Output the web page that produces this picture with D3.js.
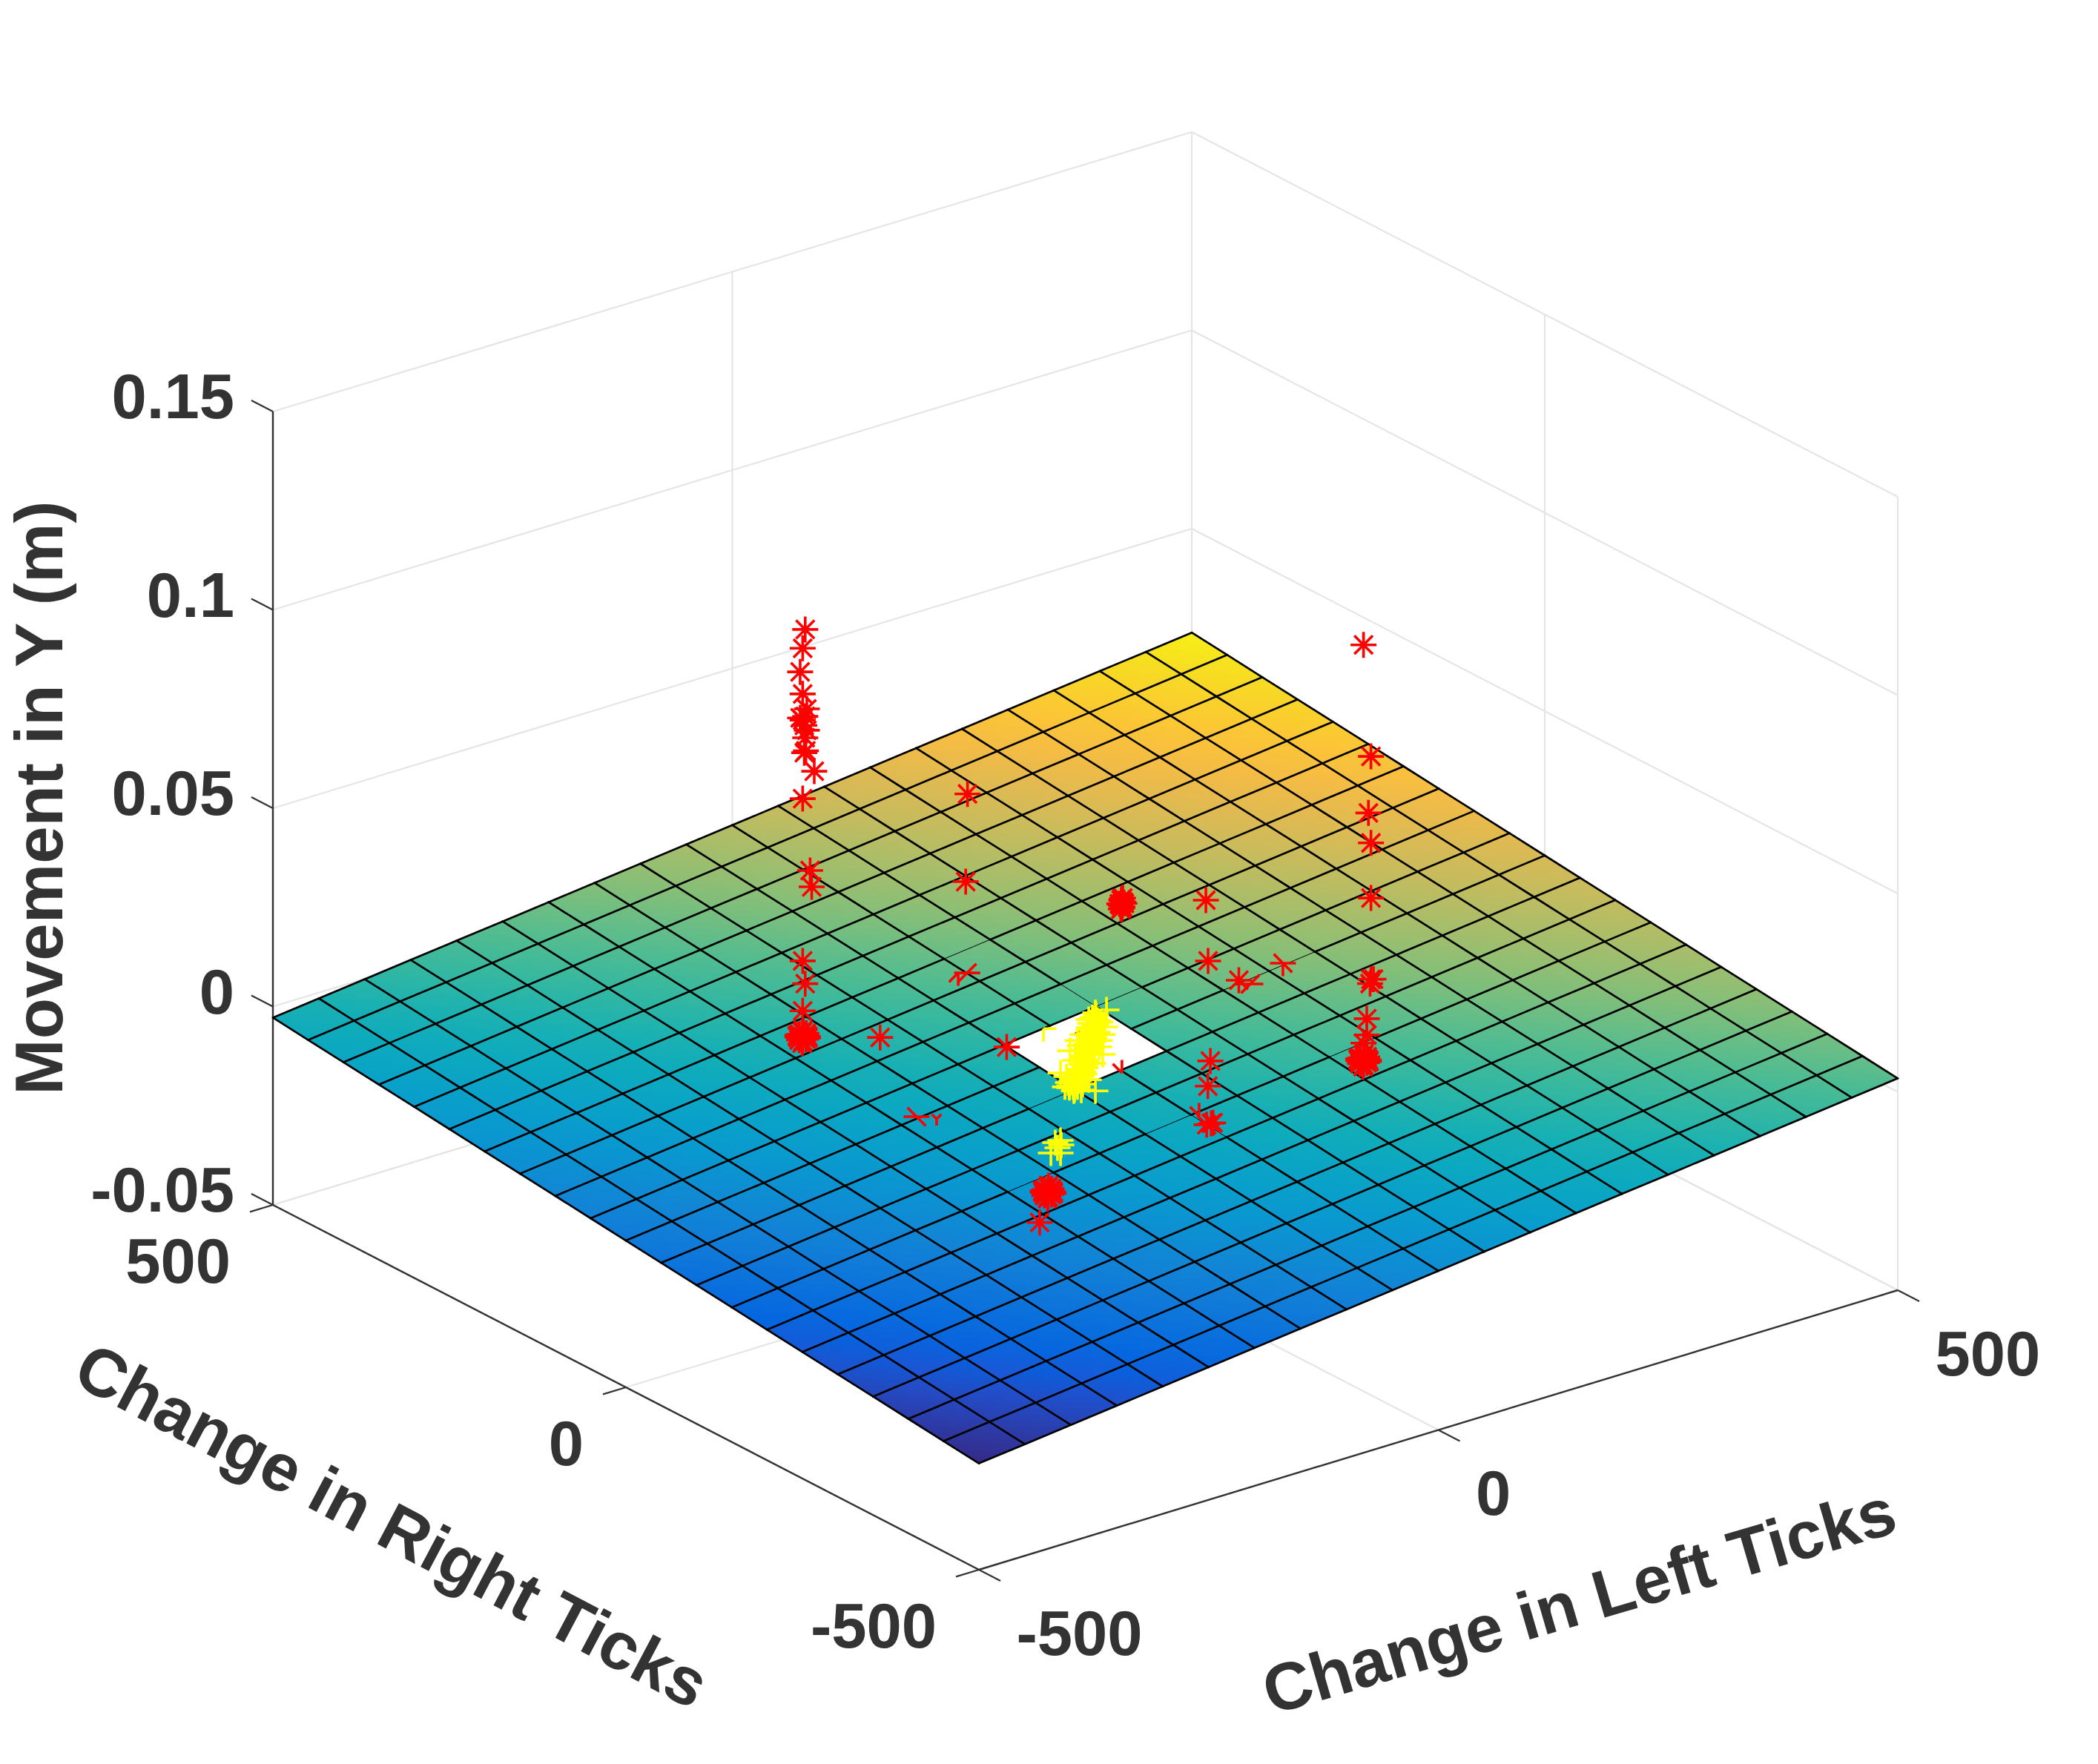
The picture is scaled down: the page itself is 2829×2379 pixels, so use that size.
<!DOCTYPE html>
<html>
<head>
<meta charset="utf-8">
<style>
 body{ margin:0; background:#fff; }
 svg{ display:block; background:#fff; }
 text{ font-family:"Liberation Sans",Arial,sans-serif; font-weight:bold; fill:#333; }
</style>
</head>
<body>
<svg width="2829" height="2379"></svg>
<script src="https://cdn.jsdelivr.net/npm/d3@7"></script>
<script>
// axis ticks
var leftTicks = [-500, 0, 500];
var rightTicks = [-500, 0, 500];
var moveTicks = [-0.05, 0, 0.05, 0.1, 0.15];
var moveTickLabels = ["-0.05", "0", "0.05", "0.1", "0.15"];

// fitted surface: grid lines and height in 1e-5 m, rows go along right ticks
var gridLeft = [-500,-450,-400,-350,-300,-250,-200,-150,-100,-50,0,50,100,150,200,250,300,350,400,450,500];
var gridRight = [-500,-450,-400,-350,-300,-250,-200,-150,-100,-50,0,50,100,150,200,250,300,350,400,450,500];
var surfaceZ = [
 [-2320,-2187,-2054,-1921,-1788,-1655,-1522,-1389,-1256,-1123,-990,-857,-724,-591,-458,-325,-192,-59,74,207,340],
 [-2218,-2085,-1952,-1819,-1686,-1553,-1420,-1287,-1154,-1021,-888,-755,-622,-489,-356,-223,-90,43,176,309,442],
 [-2116,-1983,-1850,-1717,-1584,-1451,-1318,-1185,-1052,-919,-786,-653,-520,-387,-254,-121,12,145,278,411,544],
 [-2014,-1881,-1748,-1615,-1482,-1349,-1216,-1083,-950,-817,-684,-551,-418,-285,-152,-19,114,247,380,513,646],
 [-1912,-1779,-1646,-1513,-1380,-1247,-1114,-981,-848,-715,-582,-449,-316,-183,-50,83,216,349,482,615,748],
 [-1810,-1677,-1544,-1411,-1278,-1145,-1012,-879,-746,-613,-480,-347,-214,-81,52,185,318,451,584,717,850],
 [-1708,-1575,-1442,-1309,-1176,-1043,-910,-777,-644,-511,-378,-245,-112,21,154,287,420,553,686,819,952],
 [-1606,-1473,-1340,-1207,-1074,-941,-808,-675,-542,-409,-276,-143,-10,123,256,389,522,655,788,921,1054],
 [-1504,-1371,-1238,-1105,-972,-839,-706,-573,-440,-307,-174,-41,92,225,358,491,624,757,890,1023,1156],
 [-1402,-1269,-1136,-1003,-870,-737,-604,-471,-338,-205,-72,61,194,327,460,593,726,859,992,1125,1258],
 [-1300,-1167,-1034,-901,-768,-635,-502,-369,-236,-103,null,163,296,429,562,695,828,961,1094,1227,1360],
 [-1198,-1065,-932,-799,-666,-533,-400,-267,-134,-1,132,265,398,531,664,797,930,1063,1196,1329,1462],
 [-1096,-963,-830,-697,-564,-431,-298,-165,-32,101,234,367,500,633,766,899,1032,1165,1298,1431,1564],
 [-994,-861,-728,-595,-462,-329,-196,-63,70,203,336,469,602,735,868,1001,1134,1267,1400,1533,1666],
 [-892,-759,-626,-493,-360,-227,-94,39,172,305,438,571,704,837,970,1103,1236,1369,1502,1635,1768],
 [-790,-657,-524,-391,-258,-125,8,141,274,407,540,673,806,939,1072,1205,1338,1471,1604,1737,1870],
 [-688,-555,-422,-289,-156,-23,110,243,376,509,642,775,908,1041,1174,1307,1440,1573,1706,1839,1972],
 [-586,-453,-320,-187,-54,79,212,345,478,611,744,877,1010,1143,1276,1409,1542,1675,1808,1941,2074],
 [-484,-351,-218,-85,48,181,314,447,580,713,846,979,1112,1245,1378,1511,1644,1777,1910,2043,2176],
 [-382,-249,-116,17,150,283,416,549,682,815,948,1081,1214,1347,1480,1613,1746,1879,2012,2145,2278],
 [-280,-147,-14,119,252,385,518,651,784,917,1050,1183,1316,1449,1582,1715,1848,1981,2114,2247,2380]
];
// grid segments that come out hairline in the picture: [column, row]
var thinAlongLeft = [[10,14],[11,11],[8,9],[9,7],[6,7],[13,10],[14,10],[13,7]];
var thinAlongRight = [[11,11],[10,6]];

// measured points [left ticks, right ticks, movement]
var redColumnA = [
 [-175,169,.1026],[-177,170,.0979],[-179,171,.0920],[-177,170,.0864],[-174,168,.0826],[-177,170,.0798],
 [-175,169,.0807],[-174,168,.0772],[-175,168,.0721],[-169,164,.0669],[-177,170,.0600],[-172,166,.0419],
 [-171,165,.0378],[-177,170,.0191],[-175,169,.0133],[-177,170,.0065],[-179,171,.0804],[-176,169,.0785],
 [-175,169,.0753],[-176,169,.0716]
];
var redColumnB = [
 [176,-165,.1047],[181,-169,.0766],[179,-168,.0624],[181,-169,.0548],[181,-169,.0409],[181,-169,.0204],
 [183,-170,.0204],[180,-169,.0194],[178,-167,.0105],[178,-167,.0064],[176,-165,.0043]
];
var redClusterA = [
 [-177,170,0],[-173,168,0],[-181,172,0],[-171,178,0],[-183,162,0],[-168,181,0],[-186,159,0],[-170,174,0],[-184,166,0],
 [-176,176,0],[-178,164,0],[-174,167,0],[-180,173,0],[-179,175,0],[-175,165,0],[-172,172,0],[-182,168,0]
];
var redClusterB = [
 [176,-165,0],[180,-167,0],[172,-163,0],[182,-157,0],[170,-173,0],[185,-154,0],[167,-176,0],[183,-161,0],[169,-169,0],
 [177,-159,0],[175,-171,0],[179,-168,0],[173,-162,0],[174,-160,0],[178,-170,0],[181,-163,0],[171,-167,0]
];
var redClusterC = [
 [155,150,.012],[157,149,.012],[153,151,.012],[161,158,.012],[149,142,.012],[163,159,.012],
 [147,141,.012],[159,156,.012],[151,144,.012],[158,152,.012],[152,148,.012]
];
var redClusterD = [
 [-215,-227,0],[-211,-229,0],[-219,-225,0],[-209,-219,0],[-221,-235,0],[-206,-216,0],[-224,-238,0],[-208,-223,0],[-222,-231,0],
 [-214,-221,0],[-216,-233,0],[-212,-228,0],[-218,-226,0],[-217,-222,0],[-213,-232,0],[-210,-224,0],[-220,-230,0]
];
var redSingles = [
 [100,297,.03],[35,215,.02],[-125,128,0],[-51,45,0],[-261,-275,0],[175,57,.02],[148.5,19.4,.01],[144,-30,.01],
 [70,-86,0],[35,-128,0],[-12,-194,0],[-17,-194,0],[-10,-194,0]
];
// points that dip into the surface: only some arms show. arms count clockwise from east, 45 deg each
var redPartial = [
 [20.2,193.7,0,[0,4,7,3]],[14.1,198.4,0,[2,3]],[199.5,26,0,[0,4,7,3]],[249.4,44.7,0,[0,4,5,1,2]],
 [-10.5,-174.8,0,[5,6]],[-6.4,-60.2,0,[5,6]],[-205.1,-27.9,0,[0,4,5,1]]
];
var redStubs = [[-194.3,-42.2,0,[5,7,2]],[21.8,36.2,0,[3]]];
var yellowPoints = [
 [6.9,-5.3,.0092],[4.8,-3.7,.0080],[8.4,-6.4,.0073],[3.3,-2.5,.0065],[6.4,-4.9,.0058],[10.4,-8,.0069],[2.3,-1.8,.0054],
 [4.8,-3.7,.0043],[8.4,-6.4,.0043],[1.3,-1,.0036],[3.3,-2.5,.0024],[6.4,-4.9,.0028],[.3,-.2,.0013],[3.3,-2.5,.0006],
 [-.8,.6,-.0002],[1.8,-1.4,-.0009],[-1.8,1.4,-.0017],[.8,-.6,-.0028],[-2.8,2.1,-.0036],[-.3,.2,-.0043],[-4.3,3.3,-.0050],
 [-1.3,1,-.0058],[-5.8,4.5,-.0065],[-2.8,2.1,-.0069],[-7.4,5.6,-.0073],[-4.3,3.3,-.0080],[-9.4,7.2,-.0080],[-6.4,4.9,-.0088],
 [-8.4,6.4,-.0095],[-5.3,4.1,-.0095],[-10.9,8.4,-.0097],[-11.9,9.1,-.0084],[-7.9,6,-.0105],[-1.8,1.4,-.0088],
 [7.4,-5.6,.0086],[5.3,-4.1,.0077],[7.4,-5.6,.0062],[3.8,-2.9,.0049],[6.9,-5.3,.0037],[2.8,-2.1,.0030],[5.3,-4.1,.0019],
 [1.3,-1,.0007],[4.3,-3.3,.0002],[.3,-.2,-.0006],[2.8,-2.1,-.0013],[-1.3,1,-.0022],[1.3,-1,-.0034],[-2.3,1.8,-.0039],
 [.3,-.2,-.0047],[-3.3,2.5,-.0054],[-.8,.6,-.0062],[-6.9,5.3,-.0077],[-8.9,6.8,-.0084],[-10.9,8.4,-.0092],[-7.4,5.6,-.0101],
 [2.3,-1.8,.0075],[13.5,-10.3,.0056],[-1.8,1.4,.0037],[11.9,-9.1,.0037],[-3.8,2.9,.0009],[9.4,-7.2,.0006],
 [-6.9,5.3,-.0028],[5.3,-4.1,-.0036],[-13,9.9,-.0069],[2.3,-1.8,-.0077],[-14,10.7,-.0095],[-2.8,2.1,-.0103],
 [14.5,-11.1,.0099],[6.9,-5.3,-.0105],[-17,13,-.0060],[-10.4,8,-.0004],[11.9,-9.1,-.0013],[9.9,-7.6,.0022],[-5.3,4.1,.0022],
 [-137.9,-144.3,0],[-144.5,-145.4,0],[-143.3,-152.4,0],[-149.8,-155.5,0],[-161.2,-161,0],[-154.6,-166.1,0]
];
var yellowPartial = [[-28.7,22,.0052,[0,2]]];

// parula, the old matlab one
var parulaStops = [0,.095,.127,.238,.333,.429,.524,.619,.714,.794,.841,.905,.952,1];
var parulaColors = ["#352a87","#2053d4","#0363e1","#1481d6","#079ccf","#0faeb9","#42bb98","#87bf77","#c0bc60","#e9b94e","#fdbe3d","#f9d329","#f5e41d","#f9fb0e"];

var svg = d3.select("svg");
var defs = svg.append("defs");

// box corners on the page
var front = [1320, 2117], left = [368, 1625], right = [2559, 1740], boxHeight = 1070;

var xS = d3.scaleLinear().domain([-500, 500]).range([0, 1]);
var yS = d3.scaleLinear().domain([-500, 500]).range([0, 1]);
var zS = d3.scaleLinear().domain([-0.05, 0.15]).range([0, boxHeight]);

function project(x, y, z){
    var a = xS(x), b = yS(y);
    return [front[0] + a*(right[0]-front[0]) + b*(left[0]-front[0]),
	    front[1] + a*(right[1]-front[1]) + b*(left[1]-front[1]) - zS(z)];
}

var zMin = -0.0232, zMax = 0.025;
var color = d3.scaleLinear()
	      .domain(parulaStops.map(function(t){ return zMin + t*(zMax-zMin); }))
	      .range(parulaColors);

function line3(g, a, b, stroke, width){
    var p = project(a[0], a[1], a[2]), q = project(b[0], b[1], b[2]);
    g.append("line")
	.attr("x1", p[0]).attr("y1", p[1])
	.attr("x2", q[0]).attr("y2", q[1])
	.attr("stroke", stroke)
	.attr("stroke-width", width);
}

// back walls and floor
var grid = svg.append("g");
var gridColor = "#e5e5e5";
moveTicks.forEach(function(z){
    line3(grid, [-500,500,z], [500,500,z], gridColor, 2.2);
    line3(grid, [500,500,z], [500,-500,z], gridColor, 2.2);
});
leftTicks.forEach(function(x){
    line3(grid, [x,500,-0.05], [x,500,0.15], gridColor, 2.2);
    line3(grid, [x,-500,-0.05], [x,500,-0.05], gridColor, 2.2);
});
rightTicks.forEach(function(y){
    line3(grid, [500,y,-0.05], [500,y,0.15], gridColor, 2.2);
    line3(grid, [-500,y,-0.05], [500,y,-0.05], gridColor, 2.2);
});

// axes and ticks
var axes = svg.append("g");
var axisColor = "#333";
line3(axes, [-500,500,-0.05], [-500,500,0.15], axisColor, 2.4);
line3(axes, [-500,-500,-0.05], [-500,500,-0.05], axisColor, 2.4);
line3(axes, [-500,-500,-0.05], [500,-500,-0.05], axisColor, 2.4);
moveTicks.forEach(function(z){ line3(axes, [-500,500,z], [-500,530.5,z], axisColor, 2.2); });
rightTicks.forEach(function(y){ line3(axes, [-500,y,-0.05], [-525,y,-0.05], axisColor, 2.2); });
leftTicks.forEach(function(x){ line3(axes, [x,-500,-0.05], [x,-530.5,-0.05], axisColor, 2.2); });

// surface cells, each with a gradient that runs the way the height rises
var cells = [];
surfaceZ.forEach(function(row, j){
    row.forEach(function(v, i){
	if(i == row.length-1 || j == surfaceZ.length-1) return;
	var zs = [v, row[i+1], surfaceZ[j+1][i], surfaceZ[j+1][i+1]];
	if(zs.some(function(d){ return d === null; })) return;
	cells.push({i:i, j:j, z:zs.map(function(d){ return d/1e5; })});
    });
});

function cellCorners(c){
    return [project(gridLeft[c.i], gridRight[c.j], c.z[0]),
	    project(gridLeft[c.i+1], gridRight[c.j], c.z[1]),
	    project(gridLeft[c.i+1], gridRight[c.j+1], c.z[3]),
	    project(gridLeft[c.i], gridRight[c.j+1], c.z[2])];
}

cells.forEach(function(c){
    var p = cellCorners(c);
    var e1 = [p[1][0]-p[0][0], p[1][1]-p[0][1]], e2 = [p[3][0]-p[0][0], p[3][1]-p[0][1]];
    var d1 = c.z[1]-c.z[0], d2 = c.z[2]-c.z[0], rise = c.z[3]-c.z[0];
    var det = e1[0]*e2[1] - e1[1]*e2[0];
    var gx = (d1*e2[1] - d2*e1[1])/det, gy = (e1[0]*d2 - e2[0]*d1)/det;
    var k = rise/(gx*gx + gy*gy);
    var lg = defs.append("linearGradient")
		 .attr("id", "cell" + c.i + "_" + c.j)
		 .attr("gradientUnits", "userSpaceOnUse")
		 .attr("x1", p[0][0]).attr("y1", p[0][1])
		 .attr("x2", p[0][0] + gx*k).attr("y2", p[0][1] + gy*k);
    lg.append("stop").attr("offset", 0).attr("stop-color", color(c.z[0]));
    lg.append("stop").attr("offset", 1).attr("stop-color", color(c.z[3]));
});

var surface = svg.append("g");
surface.selectAll("path")
    .data(cells)
    .enter().append("path")
    .attr("d", function(c){ return "M" + cellCorners(c).join("L") + "Z"; })
    .attr("fill", function(c){ return "url(#cell" + c.i + "_" + c.j + ")"; });

// mesh lines
var isThin = function(list, i, j){
    return list.some(function(d){ return d[0] == i && d[1] == j; });
};
var mesh = svg.append("g").attr("stroke-linecap", "round");
surfaceZ.forEach(function(row, j){
    row.forEach(function(v, i){
	if(v === null) return;
	if(i < row.length-1 && row[i+1] !== null)
	    line3(mesh, [gridLeft[i],gridRight[j],v/1e5], [gridLeft[i+1],gridRight[j],row[i+1]/1e5], "#000", isThin(thinAlongLeft,i,j) ? 1 : 2.7);
	if(j < surfaceZ.length-1 && surfaceZ[j+1][i] !== null)
	    line3(mesh, [gridLeft[i],gridRight[j],v/1e5], [gridLeft[i],gridRight[j+1],surfaceZ[j+1][i]/1e5], "#000", isThin(thinAlongRight,i,j) ? 1 : 2.7);
    });
});

// markers: arms from the point, 45 deg apart
var markerR = 17.5;
function armsPath(d, arms, r){
    var p = project(d[0], d[1], d[2]);
    return arms.map(function(k){
	var a = k*Math.PI/4;
	return "M" + p[0] + "," + p[1] + "L" + (p[0]+r*Math.cos(a)) + "," + (p[1]+r*Math.sin(a));
    }).join("");
}
var starArms = [0,1,2,3,4,5,6,7], plusArms = [0,2,4,6];

function drawMarkers(points, stroke, armsOf, r){
    svg.append("g").selectAll("path")
	.data(points)
	.enter().append("path")
	.attr("d", function(d){ return armsPath(d, armsOf(d), r); })
	.attr("fill", "none")
	.attr("stroke", stroke)
	.attr("stroke-width", 3.6);
}
var allStar = function(){ return starArms; }, allPlus = function(){ return plusArms; }, someArms = function(d){ return d[3]; };

[redColumnA, redColumnB, redClusterA, redClusterB, redClusterC, redClusterD, redSingles].forEach(function(pts){
    drawMarkers(pts, "#f00", allStar, markerR);
});
drawMarkers(redPartial, "#f00", someArms, markerR);
drawMarkers(redStubs, "#f00", someArms, 9);
drawMarkers(yellowPoints, "#ff0", allPlus, markerR);
drawMarkers(yellowPartial, "#ff0", someArms, markerR);

// tick labels
var tickFont = 85;
moveTicks.forEach(function(z, k){
    var p = project(-500, 500, z);
    svg.append("text")
	.attr("x", 316).attr("y", p[1] + 9)
	.attr("text-anchor", "end")
	.style("font-size", tickFont + "px")
	.text(moveTickLabels[k]);
});
rightTicks.forEach(function(y){
    var p = project(-500, y, -0.05);
    svg.append("text")
	.attr("x", p[0] - 57).attr("y", p[1] + 105)
	.attr("text-anchor", "end")
	.style("font-size", tickFont + "px")
	.text(y);
});
leftTicks.forEach(function(x){
    var p = project(x, -500, -0.05);
    svg.append("text")
	.attr("x", p[0] + 50.5).attr("y", p[1] + 114.5)
	.style("font-size", tickFont + "px")
	.text(x);
});

// axis titles
function title(txt, x, y, angle){
    svg.append("text")
	.attr("transform", "translate(" + x + "," + y + ") rotate(" + angle + ")")
	.attr("text-anchor", "middle")
	.style("font-size", "90.5px")
	.text(txt);
}
title("Change in Left Ticks", 2138, 2189, -16.3);
title("Change in Right Ticks", 514, 2085, 27.8);
title("Movement in Y (m)", 84, 1076, -90);
</script>
</body>
</html>
